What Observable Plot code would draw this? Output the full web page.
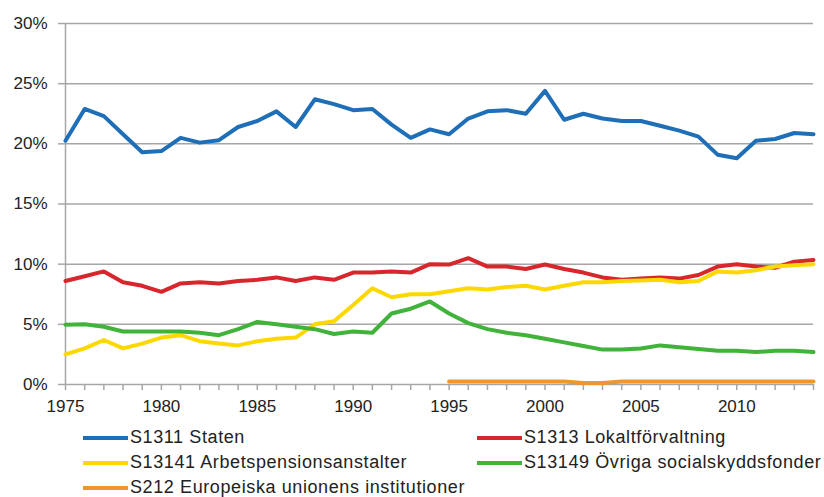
<!DOCTYPE html>
<html><head><meta charset="utf-8">
<script src="https://cdn.jsdelivr.net/npm/d3@7"></script>
<script src="https://cdn.jsdelivr.net/npm/@observablehq/plot@0.6"></script>
<style>
body{margin:0;background:#fff;font-family:"Liberation Sans",Arial,sans-serif;}
#legend{display:grid;grid-template-columns:394px auto;padding-left:83px;padding-top:5px;width:741px;}
.item{display:flex;align-items:center;height:25px;font-size:18px;letter-spacing:0.6px;color:#222;white-space:nowrap;}
.sw{width:45px;height:4px;margin-right:2px;flex:none;}
</style></head><body>
<div id="chart"></div><div id="legend"></div>
<script>
const years = [1975,1976,1977,1978,1979,1980,1981,1982,1983,1984,1985,1986,1987,1988,1989,1990,1991,1992,1993,1994,1995,1996,1997,1998,1999,2000,2001,2002,2003,2004,2005,2006,2007,2008,2009,2010,2011,2012,2013,2014];
const labelYears = [1975,1980,1985,1990,1995,2000,2005,2010];
const yTicks = [0,5,10,15,20,25,30];
const names = ["S1311 Staten","S1313 Lokaltförvaltning","S13141 Arbetspensionsanstalter","S13149 Övriga socialskyddsfonder","S212 Europeiska unionens institutioner"];
const colors = ["#1f6fb8","#d8262d","#fdd800","#41b23a","#f0962e"];
const staten = [20.25,22.9,22.3,20.8,19.3,19.4,20.5,20.1,20.3,21.4,21.9,22.7,21.4,23.7,23.3,22.8,22.9,21.6,20.5,21.2,20.8,22.1,22.7,22.8,22.5,24.4,22.0,22.5,22.1,21.9,21.9,21.5,21.1,20.6,19.1,18.8,20.25,20.4,20.9,20.8];
const lokal = [8.6,9.0,9.4,8.5,8.2,7.7,8.4,8.5,8.4,8.6,8.7,8.9,8.6,8.9,8.7,9.3,9.3,9.4,9.3,10.0,9.97,10.5,9.8,9.8,9.6,9.97,9.6,9.3,8.9,8.7,8.8,8.9,8.8,9.1,9.8,10.0,9.8,9.7,10.2,10.35];
const arbets = [2.5,3.0,3.7,3.0,3.4,3.9,4.1,3.6,3.4,3.25,3.6,3.8,3.9,5.0,5.25,6.6,8.0,7.25,7.5,7.5,7.75,8.0,7.9,8.1,8.2,7.9,8.2,8.5,8.5,8.6,8.65,8.7,8.5,8.6,9.4,9.3,9.5,9.8,9.9,10.0];
const ovriga = [4.97,5.0,4.8,4.4,4.4,4.4,4.4,4.3,4.1,4.6,5.2,5.0,4.8,4.6,4.2,4.4,4.3,5.9,6.3,6.9,5.9,5.1,4.6,4.3,4.1,3.8,3.5,3.2,2.9,2.9,3.0,3.25,3.1,2.95,2.8,2.8,2.7,2.8,2.8,2.7];
const euYears = [1995,1996,1997,1998,1999,2000,2001,2002,2003,2004,2005,2006,2007,2008,2009,2010,2011,2012,2013,2014];
const eu = [0.25,0.25,0.25,0.25,0.25,0.25,0.25,0.12,0.12,0.25,0.25,0.25,0.25,0.25,0.25,0.25,0.25,0.25,0.25,0.25];

const series = [
  {name: names[0], years: years, values: staten},
  {name: names[1], years: years, values: lokal},
  {name: names[2], years: years, values: arbets},
  {name: names[3], years: years, values: ovriga},
  {name: names[4], years: euYears, values: eu}
];
const data = [];
series.forEach(s => s.values.forEach((v, i) => data.push({year: s.years[i], value: v, key: s.name})));

const grid = "#a6a6a6";
const plot = Plot.plot({
  width: 824, height: 420,
  marginLeft: 65, marginRight: 11, marginTop: 23, marginBottom: 36,
  x: {domain: [1975, 2014]},
  y: {domain: [0, 30]},
  color: {domain: names, range: colors},
  style: {fontFamily: '"Liberation Sans", Arial, sans-serif', fontSize: "17px", color: "#222", background: "#fff"},
  marks: [
    Plot.ruleY(yTicks, {stroke: grid, strokeWidth: 1.5}),
    Plot.ruleX([1975], {stroke: grid, strokeWidth: 1.5}),
    Plot.axisY({ticks: yTicks, tickSize: 7, tickPadding: 11, tickFormat: d => d + "%", stroke: grid, strokeWidth: 1.5, fill: "#222", label: null}),
    Plot.axisX({ticks: years, tickSize: 6, tickFormat: () => "", stroke: grid, strokeWidth: 1.5, label: null}),
    Plot.axisX({ticks: labelYears, tickSize: 0, tickPadding: 15, tickFormat: d => String(d), fill: "#222", label: null}),
    Plot.line(data, {x: "year", y: "value", z: "key", stroke: "key", strokeWidth: 4, strokeLinejoin: "round"})
  ]
});
document.getElementById("chart").appendChild(plot);

const legend = document.getElementById("legend");
names.forEach((n, i) => {
  const item = document.createElement("div");
  item.className = "item";
  const sw = document.createElement("span");
  sw.className = "sw";
  sw.style.background = colors[i];
  item.appendChild(sw);
  item.appendChild(document.createTextNode(n));
  legend.appendChild(item);
});
</script>
</body></html>
